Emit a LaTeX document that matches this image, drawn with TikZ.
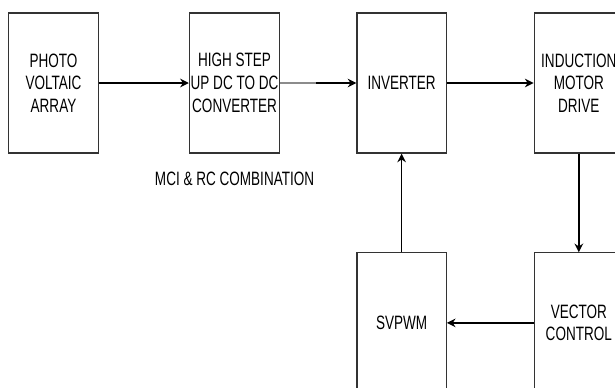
\documentclass[tikz,border=0pt]{standalone}
\usepackage{fontspec}
\newfontfamily\narrowsans[FakeStretch=0.7]{Liberation Sans}
\usetikzlibrary{arrows.meta, positioning, calc}

\begin{document}
\begin{tikzpicture}[
  x=0.75pt, y=-0.75pt,
  node distance=74pt and 66pt,
  blk/.style={draw=black!80, line width=0.9pt, minimum width=67pt, minimum height=105pt,
              align=center, inner sep=1pt, text=black,
              font=\narrowsans\fontsize{14.5}{17}\selectfont},
  lbl/.style={inner sep=0pt, text=black, font=\narrowsans\fontsize{14.5}{17}\selectfont},
  arr/.style={-{Stealth[length=6.5pt, width=6.5pt]}, line width=1.1pt, black}
]
  \useasboundingbox (0,0) rectangle (615,387);

  \node[blk] (pv) at (53.5,83) {PHOTO\\VOLTAIC\\ARRAY};
  \node[blk, right=67.5pt of pv] (conv) {HIGH STEP\\UP DC TO DC\\CONVERTER};
  \node[blk, right=57pt of conv] (inv) {INVERTER};
  \node[blk, right=65pt of inv] (imd) {INDUCTION\\MOTOR\\DRIVE};
  \node[blk, below=of inv] (svpwm) {SVPWM};
  \node[blk, below=of imd] (vc) {VECTOR\\CONTROL};

  \node[lbl, below=13.5pt of conv] (mci) {MCI \& RC COMBINATION};

  \coordinate[right=27pt of conv.east] (grayend);

  \draw[arr] (pv) -- (conv);
  \draw[arr] (conv) -- (inv);
  \draw[black!45, line width=2.2pt] (conv.east) -- (grayend);
  \draw[arr] (inv) -- (imd);
  \draw[arr] (imd) -- (vc);
  \draw[arr] (vc) -- (svpwm);
  \draw[arr] (svpwm) -- (inv);
\end{tikzpicture}
\end{document}
